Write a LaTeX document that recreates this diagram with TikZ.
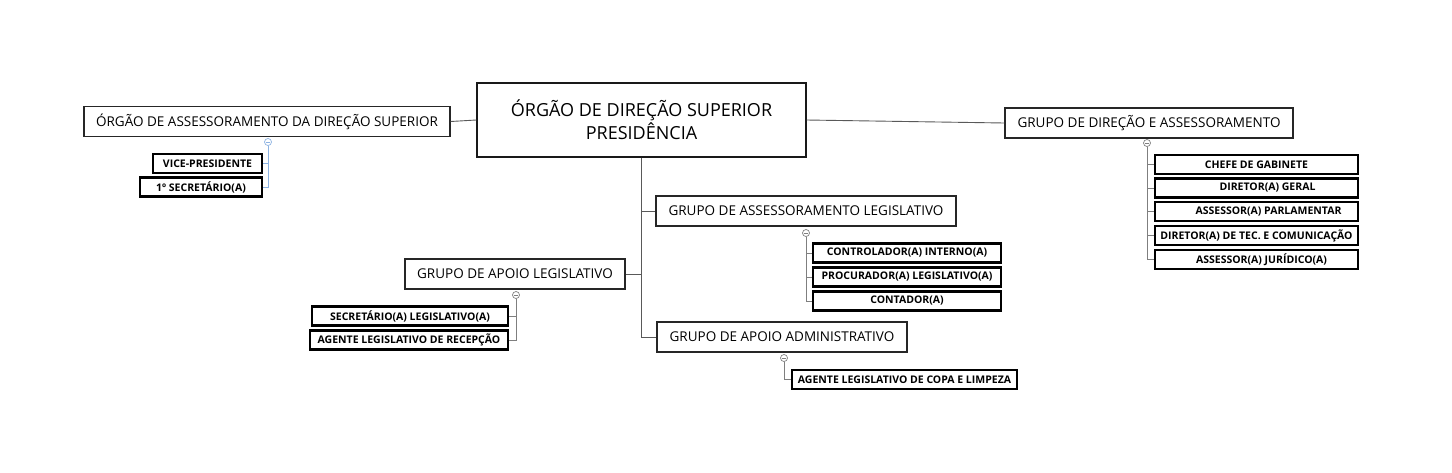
\documentclass[tikz,border=0pt]{standalone}
\usepackage{fontspec}
\setmainfont{Open Sans}
\definecolor{lineblue}{HTML}{8DB3E2}
\definecolor{linegray}{HTML}{7F7F7F}
\definecolor{maingray}{HTML}{595959}
\begin{document}
\begin{tikzpicture}[x=1pt,y=-1pt,
  mainbox/.style={draw=black!90, line width=1.4pt, fill=white, inner sep=0pt,
    minimum width=329pt, minimum height=74pt, align=center,
    font=\fontsize{18}{23}\selectfont},
  grp/.style={draw=black!85, line width=1.1pt, fill=white, inner sep=0pt,
    minimum height=30pt, font=\fontsize{13.5}{16}\selectfont},
  sub/.style={draw=black, line width=2.2pt, fill=white, inner sep=0pt,
    minimum height=19pt, font=\bfseries\fontsize{10.5}{12}\selectfont},
  conn/.style={draw=maingray, line width=0.9pt},
  gconn/.style={draw=linegray, line width=0.9pt},
  bconn/.style={draw=lineblue, line width=0.9pt},
  tog/.style={circle, draw=#1, fill=white, inner sep=0pt, minimum size=7pt, line width=0.7pt,
    path picture={\draw[#1, line width=0.5pt] ([xshift=-2pt]path picture bounding box.center) -- ([xshift=2pt]path picture bounding box.center);}}
]
\useasboundingbox (0,0) rectangle (1452,472);
\fill[white] (0,0) rectangle (1452,472);

% main
\node[mainbox] (main) at (641.5,120) {ÓRGÃO DE DIREÇÃO SUPERIOR\\PRESIDÊNCIA};

% level 1
\node[grp, minimum width=366pt] (oads) at (267,121.5) {ÓRGÃO DE ASSESSORAMENTO DA DIREÇÃO SUPERIOR};
\node[grp, minimum width=288pt] (gda) at (1149,123) {GRUPO DE DIREÇÃO E ASSESSORAMENTO};
\node[grp, minimum width=300pt] (gasl) at (806,211) {GRUPO DE ASSESSORAMENTO LEGISLATIVO};
\node[grp, minimum width=220pt] (gal) at (515,274) {GRUPO DE APOIO LEGISLATIVO};
\node[grp, minimum width=250pt] (gaa) at (782,337) {GRUPO DE APOIO ADMINISTRATIVO};

% main connectors
\draw[conn] (oads.east) -- (main.west);
\draw[conn] (main.east) -- (gda.west);
\coordinate (tk) at (main.south);
\draw[conn] (tk) -- (tk |- gaa.west) -- (gaa.west);
\draw[conn] (tk |- gasl.west) -- (gasl.west);
\draw[conn] (tk |- gal.east) -- (gal.east);

% left children
\node[sub, minimum width=109pt] (vp) at (207.5,163.5) {VICE-PRESIDENTE};
\node[sub, minimum width=122pt] (s1) at (201,187) {1º SECRETÁRIO(A)};
\node[tog=lineblue] (t1) at (268,142) {};
\draw[bconn] (t1.south) -- (t1 |- s1.east) -- (s1.east);
\draw[bconn] (t1 |- vp.east) -- (vp.east);

% right children
\node[sub, minimum width=203pt] (r1) at (1256.5,164.5) {CHEFE DE GABINETE};
\node[sub, minimum width=203pt] (r2) at (1256.5,188) {\hspace{22pt}DIRETOR(A) GERAL};
\node[sub, minimum width=203pt] (r3) at (1256.5,211.5) {\hspace{24pt}ASSESSOR(A) PARLAMENTAR};
\node[sub, minimum width=203pt] (r4) at (1256.5,235.5) {DIRETOR(A) DE TEC. E COMUNICAÇÃO};
\node[sub, minimum width=203pt] (r5) at (1256.5,259.5) {\hspace{10pt}ASSESSOR(A) JURÍDICO(A)};
\node[tog=linegray] (t2) at (1147,143) {};
\draw[gconn] (t2.south) -- (t2 |- r5.west) -- (r5.west);
\foreach \r in {r1,r2,r3,r4} \draw[gconn] (t2 |- \r.west) -- (\r.west);

% GASL children
\node[sub, minimum width=188pt] (c1) at (907,253) {CONTROLADOR(A) INTERNO(A)};
\node[sub, minimum width=188pt] (c2) at (907,277) {PROCURADOR(A) LEGISLATIVO(A)};
\node[sub, minimum width=188pt] (c3) at (907,301) {CONTADOR(A)};
\node[tog=linegray] (t3) at (806,233) {};
\draw[gconn] (t3.south) -- (t3 |- c3.west) -- (c3.west);
\foreach \r in {c1,c2} \draw[gconn] (t3 |- \r.west) -- (\r.west);

% GAL children
\node[sub, minimum width=196pt] (l1) at (410,316) {SECRETÁRIO(A) LEGISLATIVO(A)};
\node[sub, minimum width=198pt] (l2) at (409,340) {AGENTE LEGISLATIVO DE RECEPÇÃO};
\node[tog=linegray] (t4) at (516,295) {};
\draw[gconn] (t4.south) -- (t4 |- l2.east) -- (l2.east);
\draw[gconn] (t4 |- l1.east) -- (l1.east);

% GAA child
\node[sub, minimum width=225pt] (a1) at (904.5,379.5) {AGENTE LEGISLATIVO DE COPA E LIMPEZA};
\node[tog=linegray] (t5) at (784,358) {};
\draw[gconn] (t5.south) -- (t5 |- a1.west) -- (a1.west);
\end{tikzpicture}
\end{document}
